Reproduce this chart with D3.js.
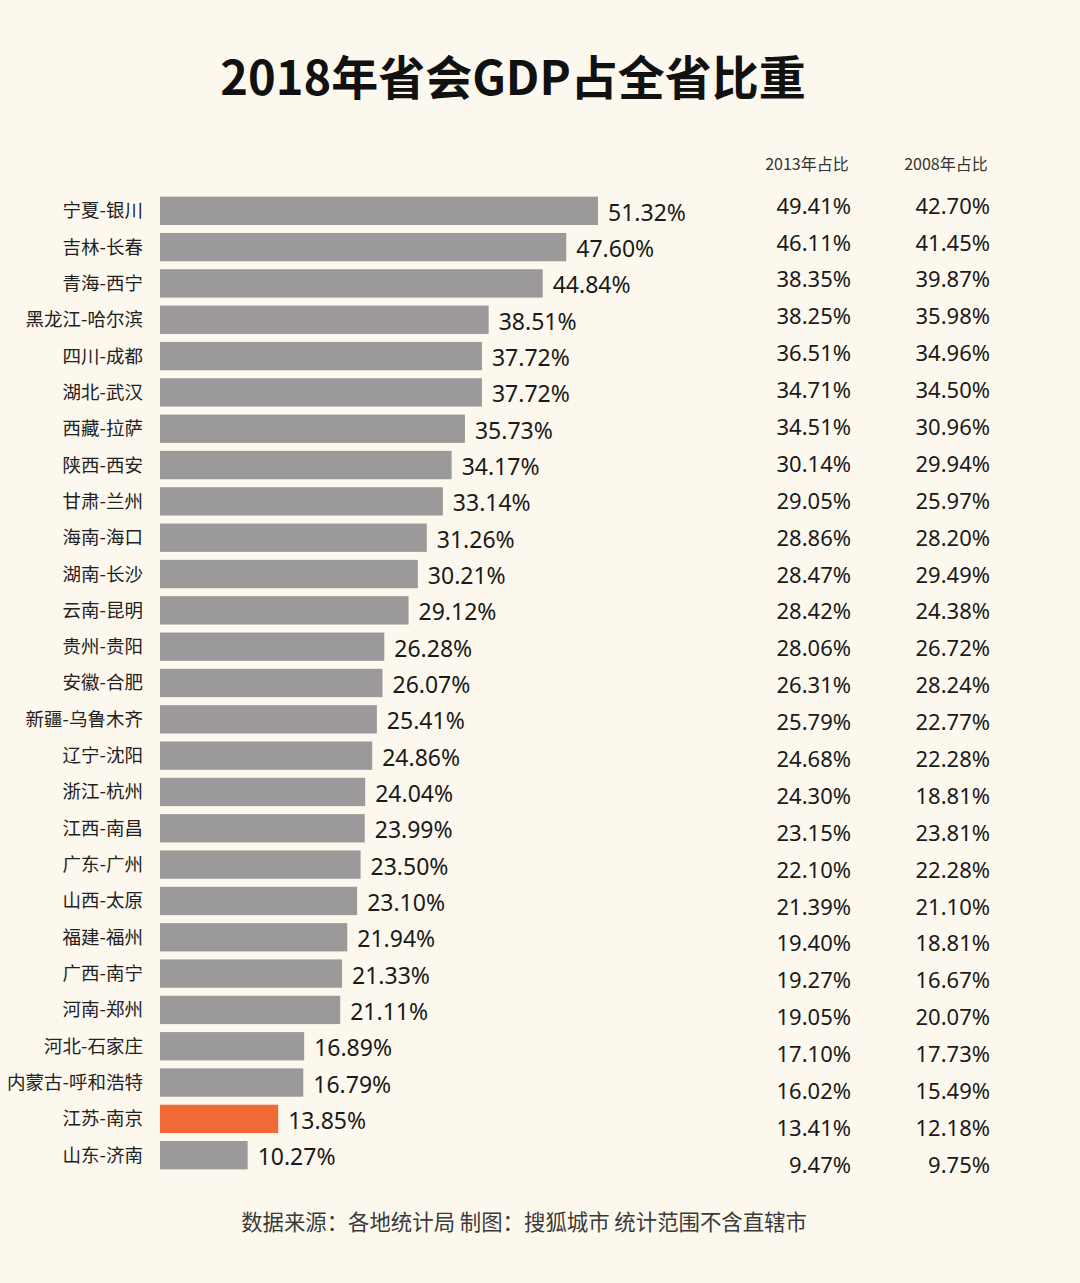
<!DOCTYPE html>
<html><head><meta charset="utf-8">
<script src="https://cdn.jsdelivr.net/npm/d3@7"></script>
<style>
html,body{margin:0;padding:0;background:#fdf8ee;}
svg{display:block;}
text{font-family:"Noto Sans","Noto Sans CJK SC",sans-serif;}
</style></head>
<body>
<script>
const cities = ["宁夏-银川","吉林-长春","青海-西宁","黑龙江-哈尔滨","四川-成都","湖北-武汉","西藏-拉萨","陕西-西安","甘肃-兰州","海南-海口","湖南-长沙","云南-昆明","贵州-贵阳","安徽-合肥","新疆-乌鲁木齐","辽宁-沈阳","浙江-杭州","江西-南昌","广东-广州","山西-太原","福建-福州","广西-南宁","河南-郑州","河北-石家庄","内蒙古-呼和浩特","江苏-南京","山东-济南"];
const share2018 = [51.32,47.60,44.84,38.51,37.72,37.72,35.73,34.17,33.14,31.26,30.21,29.12,26.28,26.07,25.41,24.86,24.04,23.99,23.50,23.10,21.94,21.33,21.11,16.89,16.79,13.85,10.27];
const share2013 = [49.41,46.11,38.35,38.25,36.51,34.71,34.51,30.14,29.05,28.86,28.47,28.42,28.06,26.31,25.79,24.68,24.30,23.15,22.10,21.39,19.40,19.27,19.05,17.10,16.02,13.41,9.47];
const share2008 = [42.70,41.45,39.87,35.98,34.96,34.50,30.96,29.94,25.97,28.20,29.49,24.38,26.72,28.24,22.77,22.28,18.81,23.81,22.28,21.10,18.81,16.67,20.07,17.73,15.49,12.18,9.75];
const highlight = "江苏-南京";
const colHeaders = ["2013年占比","2008年占比"];
const title = "2018年省会GDP占全省比重";
const footer = "数据来源：各地统计局 制图：搜狐城市 统计范围不含直辖市";

const W = 1080, H = 1283;
const svg = d3.select("body").append("svg").attr("width", W).attr("height", H);
svg.append("rect").attr("width", W).attr("height", H).attr("fill", "#fdf8ee");

const x = d3.scaleLinear().domain([0, 51.32]).range([160, 598]);
const y = d3.scaleBand().domain(cities).range([193, 1173]).paddingInner(0.22).paddingOuter(0.1);
const yt = d3.scalePoint().domain(cities).range([206, 1165]);

svg.append("text").attr("x", 513).attr("y", 95).attr("text-anchor", "middle")
  .attr("font-size", 47).attr("font-weight", "bold").attr("fill", "#111")
  .style("font-family", '"Noto Sans CJK SC",sans-serif').text(title);

const g = svg.append("g");
g.selectAll("rect.bar").data(cities).join("rect").attr("class", "bar")
  .attr("x", x(0)).attr("y", d => y(d))
  .attr("width", (d, i) => x(share2018[i]) - x(0))
  .attr("height", y.bandwidth())
  .attr("fill", d => d === highlight ? "#ef6a36" : "#9b999a");

g.selectAll("text.cat").data(cities).join("text").attr("class", "cat")
  .attr("x", 143).attr("y", d => y(d) + y.bandwidth() / 2)
  .attr("dy", "0.35em").attr("text-anchor", "end").attr("font-size", 18.5).attr("fill", "#222")
  .style("font-family", '"Noto Sans CJK SC",sans-serif').text(d => d);

g.selectAll("text.val").data(cities).join("text").attr("class", "val")
  .attr("x", (d, i) => x(share2018[i]) + 10).attr("y", d => y(d) + y.bandwidth() / 2 + 2)
  .attr("dy", "0.35em").attr("font-size", 23).attr("fill", "#1a1a1a")
  .text((d, i) => share2018[i].toFixed(2) + "%");

const colX = [851, 990];
[share2013, share2008].forEach((arr, k) => {
  g.selectAll("text.c" + k).data(cities).join("text").attr("class", "c" + k)
    .attr("x", colX[k]).attr("y", d => yt(d)).attr("dy", "0.35em")
    .attr("text-anchor", "end").attr("font-size", 22).attr("fill", "#1a1a1a")
    .text((d, i) => arr[i].toFixed(2) + "%");
  svg.append("text").attr("x", colX[k] - 44).attr("y", 164).attr("dy", "0.35em")
    .attr("text-anchor", "middle").attr("font-size", 16).attr("fill", "#333")
    .style("font-family", '"Noto Sans CJK SC",sans-serif').text(colHeaders[k]);
});

svg.append("text").attr("x", 524).attr("y", 1223).attr("dy", "0.35em").attr("text-anchor", "middle")
  .attr("font-size", 21.4).attr("fill", "#3a3a3a")
  .style("font-family", '"Noto Sans CJK SC",sans-serif').text(footer);
</script>
</body></html>
